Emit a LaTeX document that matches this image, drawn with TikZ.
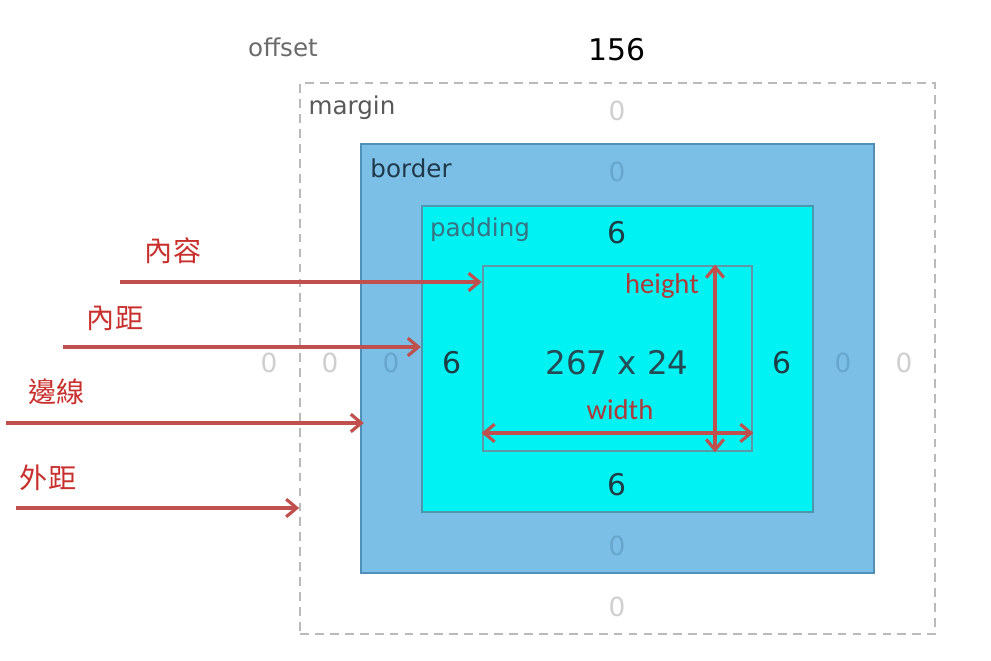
\documentclass[tikz,border=0pt]{standalone}
\usepackage{fontspec}
\setmainfont{DejaVu Sans}
\newfontfamily\cjkfont{Noto Sans CJK TC}
\newfontfamily\calfont{Carlito}
\usetikzlibrary{arrows.meta}
\definecolor{borderfill}{HTML}{7BBFE6}
\definecolor{borderline}{HTML}{4F8FB8}
\definecolor{padfill}{HTML}{00F2F2}
\definecolor{padline}{HTML}{4A98AE}
\definecolor{contline}{HTML}{5E98A6}
\definecolor{arrowred}{HTML}{C0504D}
\definecolor{dimred}{HTML}{B03A3A}
\definecolor{labelred}{HTML}{C8302E}
\definecolor{zerogray}{HTML}{CFCFCF}
\definecolor{zeroblue}{HTML}{68A6CC}
\definecolor{numdark}{HTML}{1E3C44}
\tikzset{
  boxlabel/.style={font=\fontsize{14}{16}\selectfont, inner sep=0pt},
  zero/.style={font=\fontsize{15}{17}\selectfont, text=zerogray, inner sep=0pt},
  six/.style={font=\fontsize{17}{19}\selectfont, text=numdark, inner sep=0pt},
  cjklabel/.style={font=\cjkfont\fontsize{16}{18}\selectfont, text=labelred, inner sep=0pt},
  dimlabel/.style={font=\calfont\fontsize{16.3}{18}\selectfont, text=dimred, inner sep=0pt},
  pointer/.style={draw=arrowred, line width=2.2pt, -{Straight Barb[length=6pt,width=10pt,line width=1.8pt]}},
  dimarrow/.style={draw=arrowred, line width=2.2pt, {Straight Barb[length=6pt,width=10pt,line width=1.8pt]}-{Straight Barb[length=6pt,width=10pt,line width=1.8pt]}}
}
\begin{document}
\begin{tikzpicture}[x=0.02cm, y=-0.02cm]
    \useasboundingbox (0,0) rectangle (991,661);
    \node[draw=zerogray!90!black, line width=1pt, dash pattern=on 5pt off 3.5pt, minimum width=12.7cm, minimum height=11.02cm, inner sep=0pt] (margin) at (617.5,358.5) {};
    \node[draw=borderline, fill=borderfill, line width=1.4pt, minimum width=10.26cm, minimum height=8.58cm, inner sep=0pt] (border) at (617.5,358.5) {};
    \node[draw=padline, fill=padfill, line width=1.4pt, minimum width=7.82cm, minimum height=6.12cm, inner sep=0pt] (padding) at (617.5,359) {};
    \node[draw=contline, line width=1.6pt, minimum width=5.38cm, minimum height=3.7cm, inner sep=0pt] (content) at (617.5,358.5) {};

    \node[boxlabel, text=black!58] (offset) at (283,47) {offset};
    \node[font=\fontsize{17}{19}\selectfont, inner sep=0pt] (total) at (617,50) {156};
    \node[boxlabel, text=black!65] (marginlbl) at (352,108) {margin};
    \node[boxlabel, text=black!60!borderline] (borderlbl) at (411,168) {border};
    \node[boxlabel, text=black!25!padline] (paddinglbl) at (480,230) {padding};

    \node[zero] (mtop) at (617,111) {0};
    \node[zero, text=zeroblue] (btop) at (617,172) {0};
    \node[six] (ptop) at (617,233) {6};
    \node[six] (pbot) at (617,485) {6};
    \node[zero, text=zeroblue] (bbot) at (617,546) {0};
    \node[zero] (mbot) at (617,607) {0};
    \node[zero] (oleft) at (269,363) {0};
    \node[zero] (mleft) at (330,363) {0};
    \node[zero, text=zeroblue] (bleft) at (391,363) {0};
    \node[six] (pleft) at (452,363) {6};
    \node[six, font=\fontsize{18.5}{20}\selectfont, text=numdark!85!padline] (size) at (617,363) {267 x 24};
    \node[six] (pright) at (782,363) {6};
    \node[zero, text=zeroblue] (bright) at (843,363) {0};
    \node[zero] (mright) at (904,363) {0};

    \node[dimlabel] (heightlbl) at (662,286) {height};
    \node[dimlabel] (widthlbl) at (620,410) {width};
    \draw[dimarrow] (content.south -| 715,0) -- (content.north -| 715,0);
    \draw[dimarrow] (content.west |- 0,433) -- (content.east |- 0,433);

    \node[cjklabel] (neirong) at (173,251) {內容};
    \node[cjklabel] (neiju) at (115,318) {內距};
    \node[cjklabel] (bianxian) at (57,392) {邊線};
    \node[cjklabel] (waiju) at (48,478) {外距};
    \coordinate (startC) at (120,282);
    \coordinate (startP) at (63,347);
    \coordinate (startB) at (6,423);
    \coordinate (startM) at (16,508);
    \draw[pointer] (startC) -- (content.west |- startC);
    \draw[pointer] (startP) -- (padding.west |- startP);
    \draw[pointer] (startB) -- ([xshift=0.08cm]border.west |- startB);
    \draw[pointer] (startM) -- (margin.west |- startM);
\end{tikzpicture}
\end{document}
